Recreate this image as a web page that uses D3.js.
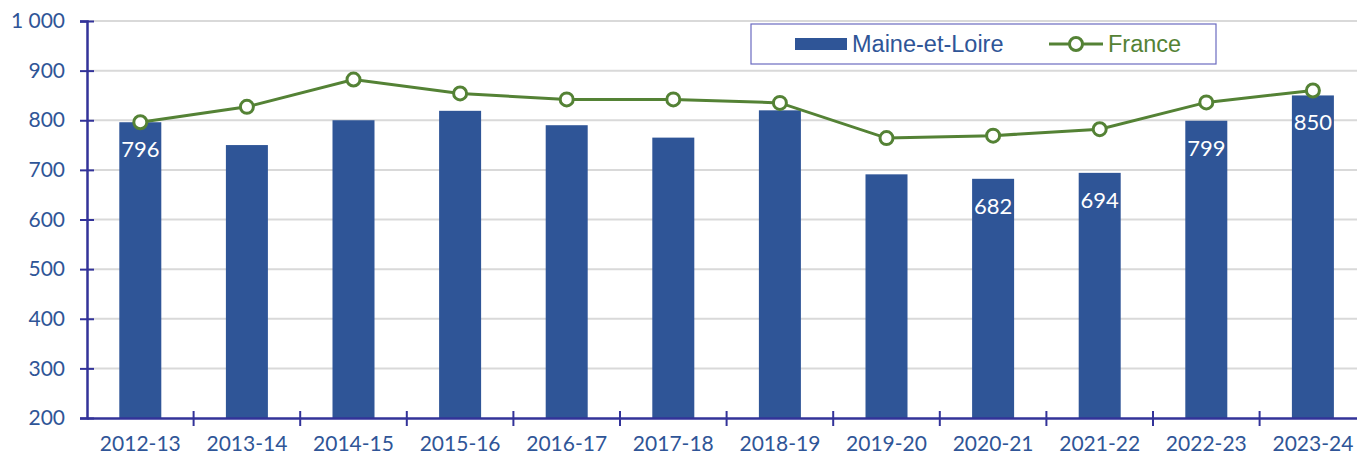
<!DOCTYPE html>
<html>
<head>
<meta charset="utf-8">
<script src="https://cdn.jsdelivr.net/npm/d3@7"></script>
<style>
  body { margin: 0; background: #fff; }
  svg { display: block; }
</style>
</head>
<body>
<div id="chart"></div>
<script>
// chart data
var years = ["2012-13", "2013-14", "2014-15", "2015-16", "2016-17", "2017-18",
             "2018-19", "2019-20", "2020-21", "2021-22", "2022-23", "2023-24"];
var maineEtLoire = [796, 750, 800, 819, 790, 765, 820, 691, 682, 694, 799, 850];
var france = [796, 827, 882, 854, 842, 842, 835, 764, 769, 782, 836, 860];
var labelled = ["2012-13", "2020-21", "2021-22", "2022-23", "2023-24"];
var yTicks = [200, 300, 400, 500, 600, 700, 800, 900, 1000];
var seriesNames = ["Maine-et-Loire", "France"];

var width = 1357, height = 456;
var marginLeft = 87, marginTop = 21, axisBottom = 418;
var barColor = "#2f5597", lineColor = "#548235", axisColor = "#333399";

var svg = d3.select("#chart").append("svg")
  .attr("width", width).attr("height", height);

var x = d3.scaleBand().domain(years).range([marginLeft, marginLeft + 12 * 106.6]).padding(0);
var y = d3.scaleLinear().domain([200, 1000]).range([axisBottom, marginTop]);
var barW = x.bandwidth() * 0.394;

// gridlines
svg.append("g").selectAll("line")
  .data(yTicks.slice(1))
  .enter().append("line")
  .attr("x1", marginLeft).attr("x2", width)
  .attr("y1", function(d) { return y(d); })
  .attr("y2", function(d) { return y(d); })
  .attr("stroke", "#d9d9d9").attr("stroke-width", 2);

// bars
svg.append("g").selectAll("rect")
  .data(years)
  .enter().append("rect")
  .attr("x", function(d) { return x(d) + (x.bandwidth() - barW) / 2; })
  .attr("width", barW)
  .attr("y", function(d, i) { return y(maineEtLoire[i]); })
  .attr("height", function(d, i) { return axisBottom - y(maineEtLoire[i]); })
  .attr("fill", barColor);

// value labels inside bars
svg.append("g").selectAll("text")
  .data(years.filter(function(d) { return labelled.indexOf(d) >= 0; }))
  .enter().append("text")
  .attr("x", function(d) { return x(d) + x.bandwidth() / 2; })
  .attr("y", function(d) { return y(maineEtLoire[years.indexOf(d)]) + 35; })
  .attr("text-anchor", "middle")
  .attr("font-family", "Lato, sans-serif").attr("font-size", 22)
  .attr("fill", "#fff")
  .text(function(d) { return maineEtLoire[years.indexOf(d)]; });

// y axis
var yAxis = svg.append("g")
  .attr("transform", "translate(" + marginLeft + ",0)")
  .call(d3.axisLeft(y).tickValues(yTicks).tickSize(7).tickPadding(15)
    .tickFormat(function(d) { return d3.format(",")(d).replace(",", " "); }));
yAxis.select(".domain").attr("stroke", axisColor).attr("stroke-width", 2.5);
yAxis.selectAll(".tick line").attr("x1", 7).attr("stroke", axisColor).attr("stroke-width", 2);
yAxis.selectAll(".tick text")
  .attr("font-family", "Lato, sans-serif").attr("font-size", 21).attr("fill", barColor);

// x axis
var xAxis = svg.append("g")
  .attr("transform", "translate(0," + axisBottom + ")")
  .call(d3.axisBottom(x).tickSize(0).tickPadding(18));
xAxis.select(".domain").attr("stroke", axisColor).attr("stroke-width", 2.5);
xAxis.selectAll(".tick text")
  .attr("font-family", "Lato, sans-serif").attr("font-size", 21).attr("fill", barColor);
xAxis.selectAll(".sep")
  .data(years)
  .enter().append("line")
  .attr("class", "sep")
  .attr("x1", function(d) { return x(d) + x.bandwidth(); })
  .attr("x2", function(d) { return x(d) + x.bandwidth(); })
  .attr("y1", -7).attr("y2", 8)
  .attr("stroke", axisColor).attr("stroke-width", 2);

// France line
var line = d3.line()
  .x(function(d, i) { return x(years[i]) + x.bandwidth() / 2; })
  .y(function(d) { return y(d); });
svg.append("path")
  .datum(france)
  .attr("d", line)
  .attr("fill", "none").attr("stroke", lineColor).attr("stroke-width", 3);
svg.append("g").selectAll("circle")
  .data(france)
  .enter().append("circle")
  .attr("cx", function(d, i) { return x(years[i]) + x.bandwidth() / 2; })
  .attr("cy", function(d) { return y(d); })
  .attr("r", 6.5)
  .attr("fill", "#fff").attr("stroke", lineColor).attr("stroke-width", 3);

// legend
var legend = svg.append("g").attr("transform", "translate(751,24)");
legend.append("rect")
  .attr("width", 465).attr("height", 40)
  .attr("fill", "#fff").attr("stroke", "#6b6bc0").attr("stroke-width", 1.2);
legend.append("rect")
  .attr("x", 44).attr("y", 14).attr("width", 52).attr("height", 12)
  .attr("fill", barColor);
legend.append("text")
  .attr("x", 101).attr("y", 28)
  .attr("font-family", "Liberation Sans, Arial, sans-serif").attr("font-size", 23.5)
  .attr("fill", barColor).text(seriesNames[0]);
legend.append("line")
  .attr("x1", 298).attr("x2", 352).attr("y1", 20).attr("y2", 20)
  .attr("stroke", lineColor).attr("stroke-width", 3);
legend.append("circle")
  .attr("cx", 325).attr("cy", 20).attr("r", 6.5)
  .attr("fill", "#fff").attr("stroke", lineColor).attr("stroke-width", 3);
legend.append("text")
  .attr("x", 357).attr("y", 28)
  .attr("font-family", "Liberation Sans, Arial, sans-serif").attr("font-size", 23.5)
  .attr("fill", lineColor).text(seriesNames[1]);
</script>
</body>
</html>
